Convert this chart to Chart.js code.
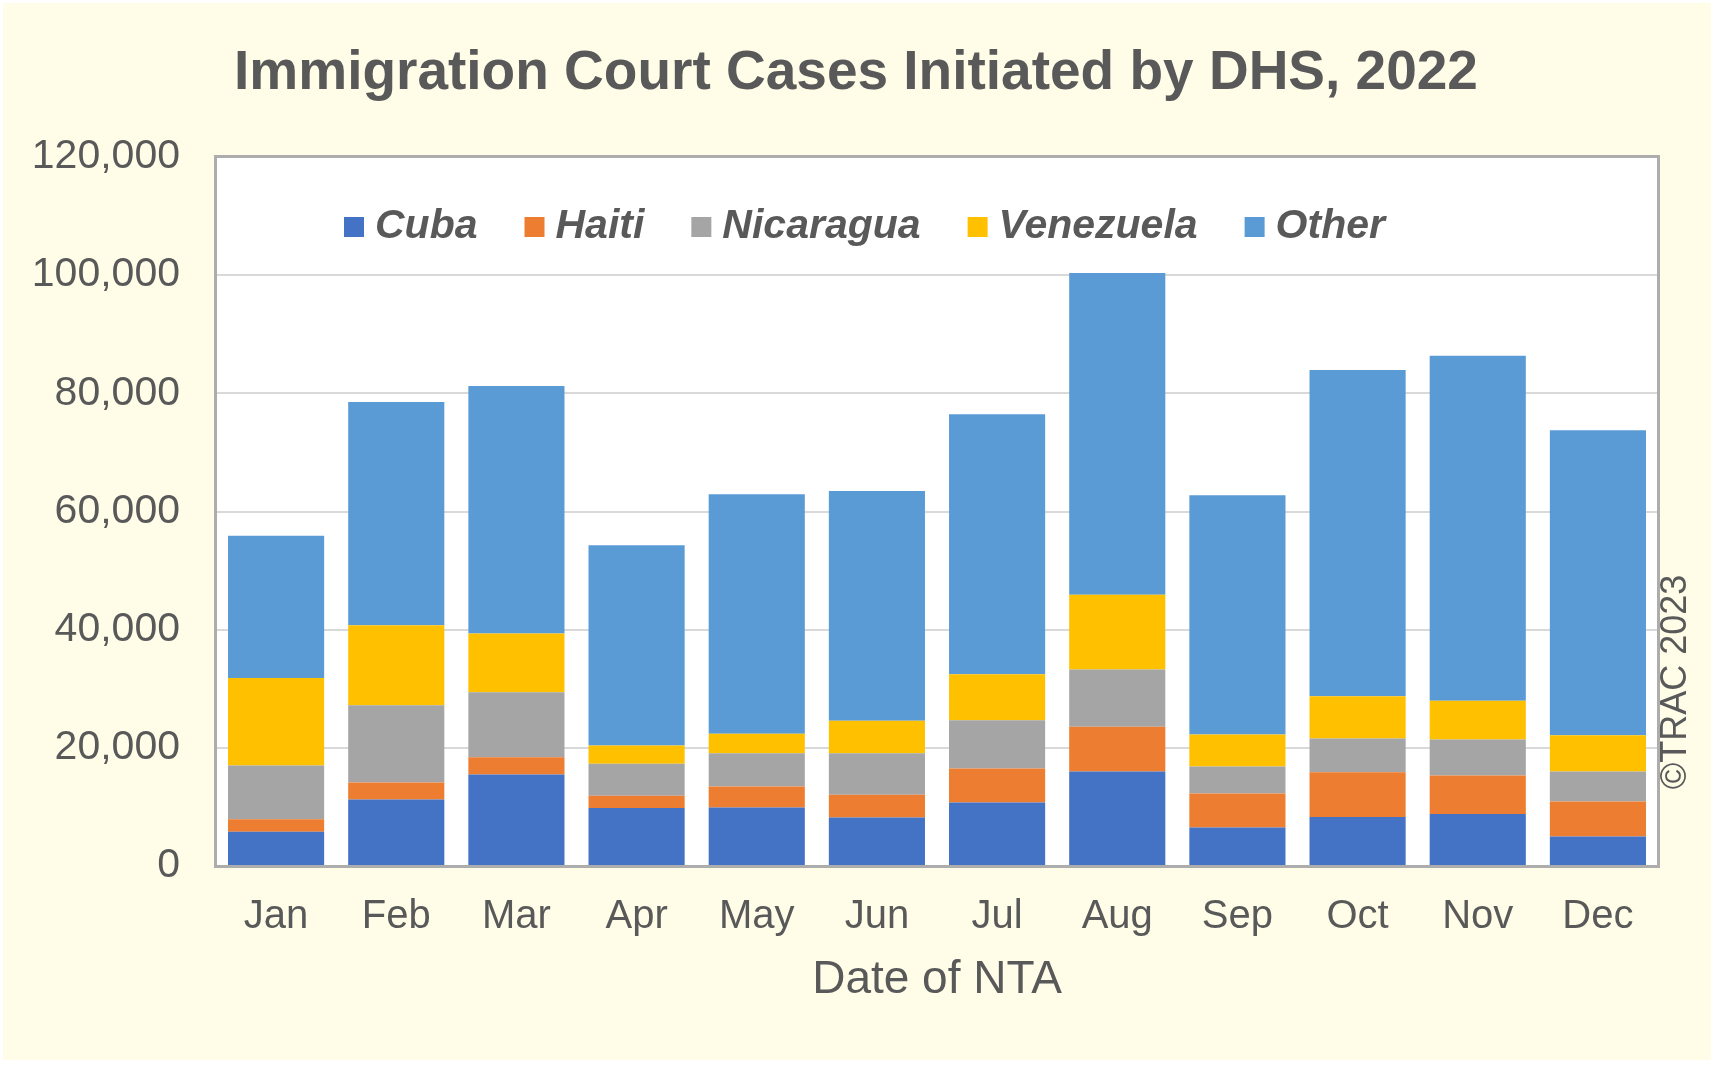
<!DOCTYPE html>
<html>
<head>
<meta charset="utf-8">
<script src="https://cdn.jsdelivr.net/npm/chart.js@4.4.0/dist/chart.umd.min.js"></script>
<style>
  html, body { margin: 0; padding: 0; background: #ffffff; }
  #wrap { width: 1714px; height: 1067px; position: relative; }
</style>
</head>
<body>
<div id="wrap"><canvas id="chart" width="1714" height="1067"></canvas></div>
<script>
// Month labels on the x axis
const MONTHS = ['Jan', 'Feb', 'Mar', 'Apr', 'May', 'Jun', 'Jul', 'Aug', 'Sep', 'Oct', 'Nov', 'Dec'];

// Cases per nationality
const CUBA      = [5800, 11250, 15500, 9800, 9900, 8200, 10750, 16000, 6500, 8300, 8800, 5000];
const HAITI     = [2100, 2900, 2900, 2100, 3550, 3850, 5750, 7550, 5750, 7550, 6500, 5900];
const NICARAGUA = [9100, 13050, 11000, 5400, 5650, 7050, 8150, 9700, 4600, 5750, 6100, 5100];
const VENEZUELA = [14800, 13550, 9950, 3100, 3300, 5500, 7800, 12650, 5400, 7150, 6550, 6150];
const OTHER     = [24100, 37800, 41900, 33900, 40500, 38850, 44000, 54450, 40500, 55200, 58400, 51600];

const SERIES_NAMES = ['Cuba', 'Haiti', 'Nicaragua', 'Venezuela', 'Other'];
const SERIES_COLORS = ['#4472C4', '#ED7D31', '#A5A5A5', '#FFC000', '#5B9BD5'];

const TEXT_COLOR = '#595959';
const FONT = "'Liberation Sans', Arial, sans-serif";

// Page background, plot background, border, title, legend and copyright
const decorPlugin = {
    id: 'decor',
    beforeDraw(chart) {
        const ctx = chart.ctx;
        const a = chart.chartArea;
        ctx.save();
        ctx.fillStyle = '#FFFDE8';
        ctx.fillRect(3, 3, chart.width - 6, chart.height - 10);
        ctx.fillStyle = '#ffffff';
        ctx.fillRect(a.left, a.top, a.right - a.left, a.bottom - a.top);
        ctx.restore();
    },
    afterDatasetsDraw(chart) {
        const ctx = chart.ctx;
        const a = chart.chartArea;
        ctx.save();
        // plot frame
        ctx.strokeStyle = '#ADADAD';
        ctx.lineWidth = 3;
        ctx.strokeRect(a.left - 0.5, a.top - 0.5, a.right - a.left + 1, a.bottom - a.top + 1);

        // title
        ctx.fillStyle = TEXT_COLOR;
        ctx.font = 'bold 55px ' + FONT;
        ctx.textAlign = 'center';
        ctx.textBaseline = 'alphabetic';
        ctx.fillText('Immigration Court Cases Initiated by DHS, 2022', 856, 89);

        // legend inside the plot area
        ctx.font = 'bold italic 41px ' + FONT;
        ctx.textAlign = 'left';
        let x = 344;
        chart.data.datasets.forEach(ds => {
            ctx.fillStyle = ds.backgroundColor;
            ctx.fillRect(x, 217, 20, 20);
            x += 31;
            ctx.fillStyle = TEXT_COLOR;
            ctx.fillText(ds.label, x, 238);
            x += ctx.measureText(ds.label).width + 47;
        });

        // copyright, reading upward
        ctx.font = '36px ' + FONT;
        ctx.translate(1686, 682);
        ctx.rotate(-Math.PI / 2);
        ctx.textAlign = 'center';
        ctx.fillText('\u00A9TRAC 2023', 0, 0);
        ctx.restore();
    }
};

const seriesData = [CUBA, HAITI, NICARAGUA, VENEZUELA, OTHER];

const datasets = SERIES_NAMES.map((name, i) => ({
    label: name,
    data: seriesData[i],
    backgroundColor: SERIES_COLORS[i],
    borderWidth: 0,
    barPercentage: 0.8,
    categoryPercentage: 1.0
}));

new Chart(document.getElementById('chart').getContext('2d'), {
    type: 'bar',
    data: { labels: MONTHS, datasets: datasets },
    options: {
        responsive: false,
        animation: false,
        layout: { padding: { top: 157, right: 56, bottom: 0, left: 0 } },
        plugins: {
            legend: { display: false },
            title: { display: false },
            tooltip: { enabled: false }
        },
        scales: {
            x: {
                stacked: true,
                grid: { display: false, drawTicks: false },
                border: { display: false },
                ticks: {
                    color: TEXT_COLOR,
                    font: { family: FONT, size: 40 },
                    padding: 27,
                    maxRotation: 0
                },
                title: {
                    display: true,
                    text: 'Date of NTA',
                    color: TEXT_COLOR,
                    font: { family: FONT, size: 46 },
                    padding: { top: 0, bottom: 59 }
                },
                afterFit: scale => { scale.height = 201; }
            },
            y: {
                stacked: true,
                min: 0,
                max: 120000,
                grid: { color: '#D9D9D9', lineWidth: 2, drawTicks: false },
                border: { display: false },
                ticks: {
                    stepSize: 20000,
                    color: TEXT_COLOR,
                    font: { family: FONT, size: 41 },
                    padding: 36,
                    callback: value => value.toLocaleString('en-US')
                },
                afterFit: scale => { scale.width = 216; }
            }
        }
    },
    plugins: [decorPlugin]
});
</script>
</body>
</html>
